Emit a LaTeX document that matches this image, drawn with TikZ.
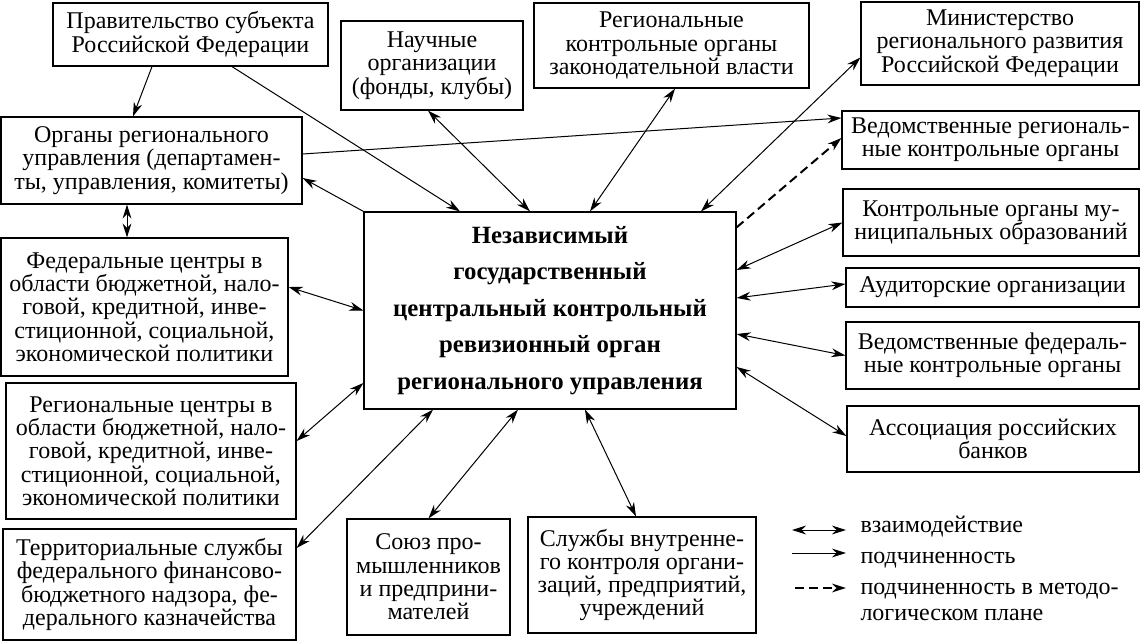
\documentclass[tikz,border=0pt]{standalone}
\usepackage{fontspec}
\setmainfont{Liberation Serif}
\usetikzlibrary{arrows.meta,calc}

\begin{document}
\begin{tikzpicture}[x=0.5pt,y=-0.5pt,line width=0.5pt,
  >={Stealth[length=7pt,width=4.4pt]},
  box/.style={draw,line width=0.6pt,align=center,inner sep=0pt,
    font=\fontsize{12}{11.65}\selectfont},
  both/.style={<->},
  sub/.style={->},
  meth/.style={->,line width=1pt,dash pattern=on 4.5pt off 2.5pt},
  legtext/.style={anchor=base west,inner sep=0pt,align=left,
    font=\fontsize{12}{13}\selectfont}]
\useasboundingbox (0,0) rectangle (1141,642);

\node[box,minimum width=186pt,minimum height=98.5pt,
  font=\fontsize{12.4}{18.2}\selectfont\bfseries] (organ) at (550,310.5)
  {Независимый\\государственный\\центральный контрольный\\ревизионный орган\\регионального управления};

\node[box,minimum width=137.5pt,minimum height=31.5pt] (gov) at (190.5,34.5)
  {Правительство субъекта\\Российской Федерации};
\node[box,minimum width=91pt,minimum height=44.5pt] (sci) at (432,65.5)
  {Научные\\организации\\(фонды, клубы)};
\node[box,minimum width=137.5pt,minimum height=42.5pt] (legis) at (671.5,45.5)
  {Региональные\\контрольные органы\\законодательной власти};
\node[box,minimum width=139pt,minimum height=41.5pt] (minreg) at (1000,43.5)
  {Министерство\\регионального развития\\Российской Федерации};
\node[box,minimum width=150.5pt,minimum height=43.5pt] (orgs) at (151.5,160.5)
  {Органы регионального\\управления (департамен-\\ты, управления, комитеты)};
\node[box,minimum width=148.5pt,minimum height=29pt] (vedreg) at (990.5,140)
  {Ведомственные региональ-\\ные контрольные органы};
\node[box,minimum width=148pt,minimum height=33.5pt] (mun) at (991,222.5)
  {Контрольные органы му-\\ниципальных образований};
\node[box,minimum width=146.5pt,minimum height=19.5pt] (audit) at (992.5,287.5)
  {Аудиторские организации};
\node[box,minimum width=146.5pt,minimum height=33.5pt] (vedfed) at (992.5,355.5)
  {Ведомственные федераль-\\ные контрольные органы};
\node[box,minimum width=146pt,minimum height=33pt] (banks) at (993,439)
  {Ассоциация российских\\банков};
\node[box,minimum width=143.5pt,minimum height=69pt] (fedc) at (144.5,307)
  {Федеральные центры в\\области бюджетной, нало-\\говой, кредитной, инве-\\стиционной, социальной,\\экономической политики};
\node[box,minimum width=145pt,minimum height=68pt] (regc) at (151,451)
  {Региональные центры в\\области бюджетной, нало-\\говой, кредитной, инве-\\стиционной, социальной,\\экономической политики};
\node[box,minimum width=146.5pt,minimum height=55.5pt] (terr) at (149.5,584.5)
  {Территориальные службы\\федерального финансово-\\бюджетного надзора, фе-\\дерального казначейства};
\node[box,minimum width=81.5pt,minimum height=58pt] (union) at (428.5,577)
  {Союз про-\\мышленников\\и предприни-\\мателей};
\node[box,minimum width=114pt,minimum height=58pt] (intern) at (642,575)
  {Службы внутренне-\\го контроля органи-\\заций, предприятий,\\учреждений};

\draw[sub] ($(gov.south)+(-38.5,0)$) -- ($(orgs.north)+(-18.5,0)$);
\draw[sub] ($(gov.south)+(41.5,0)$) -- ($(organ.north)+(-90,0)$);
\draw[both] ($(sci.south)+(-4,0)$) -- ($(organ.north)+(-20,0)$);
\draw[both] ($(legis.south)+(3.5,0)$) -- ($(organ.north)+(40,0)$);
\draw[both] ($(minreg.west)+(0,14)$) -- ($(organ.north)+(151,0)$);
\draw[sub] ($(orgs.east)+(0,-6.5)$) -- ($(vedreg.west)+(0,-22)$);
\draw[meth] ($(organ.north east)+(0,16)$) -- ($(vedreg.west)+(0,-2)$);
\draw[both] ($(organ.east)+(0,-40.5)$) -- (mun.west);
\draw[both] ($(organ.east)+(0,-12.5)$) -- ($(audit.west)+(0,-3.5)$);
\draw[both] ($(organ.east)+(0,23.5)$) -- (vedfed.west);
\draw[both] ($(organ.east)+(0,56.5)$) -- ($(banks.west)+(0,-3)$);
\draw[both] ($(orgs.south)+(-24.5,0)$) -- ($(fedc.north)+(-17.5,0)$);
\draw[sub] (organ.north west) -- ($(orgs.east)+(0,17.5)$);
\draw[both] ($(fedc.east)+(0,-20)$) -- (organ.west);
\draw[both] ($(regc.east)+(0,-10)$) -- ($(organ.west)+(0,72.5)$);
\draw[both] ($(terr.east)+(0,-36.5)$) -- ($(organ.south)+(-117,0)$);
\draw[both] (union.north) -- ($(organ.south)+(-32,0)$);
\draw[both] ($(intern.north)+(-6,0)$) -- ($(organ.south)+(35,0)$);

\node[legtext] (leg1) at (860,532) {взаимодействие};
\node[legtext] (leg2) at (860,563) {подчиненность};
\node[legtext] (leg3) at (860,620) {подчиненность в методо-\\логическом плане};
\draw[both] ($(leg1.base west)+(-68,-2)$) -- ($(leg1.base west)+(-14,-2)$);
\draw[sub] ($(leg2.base west)+(-68,-10)$) -- ($(leg2.base west)+(-14,-10)$);
\draw[meth] ($(leg3.base west)+(-65,-32)$) -- ($(leg3.base west)+(-14,-32)$);
\end{tikzpicture}
\end{document}
